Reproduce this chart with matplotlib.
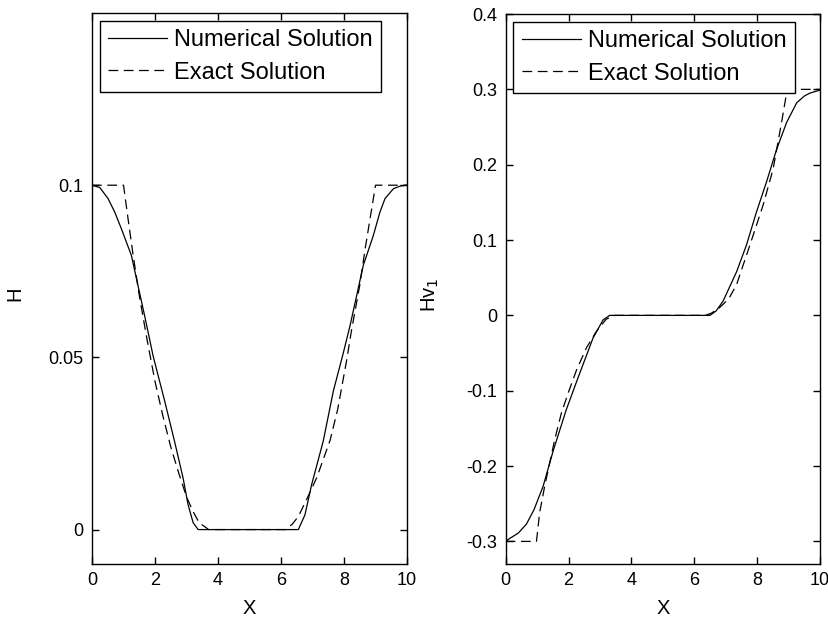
import matplotlib
matplotlib.use("Agg")
import matplotlib.pyplot as plt

plt.rcParams['font.family'] = ['Liberation Sans', 'DejaVu Sans']
plt.rcParams['lines.scale_dashes'] = False

# ---- Left panel: H ----
h_num_x = [0, 0.25, 0.51, 0.72, 0.93, 1.25, 1.46, 1.67, 1.94, 2.31, 2.62, 2.89, 3.05, 3.21, 3.37,
           6.55, 6.76, 6.97, 7.34, 7.66, 7.98, 8.19, 8.40, 8.61, 8.93, 9.14, 9.30, 9.57, 9.80, 10]
h_num = [0.1, 0.0993, 0.0961, 0.0922, 0.0874, 0.0796, 0.0708, 0.0621, 0.0504, 0.0372, 0.0256, 0.0150,
         0.0072, 0.0020, 0.0,
         0.0, 0.0043, 0.0130, 0.0257, 0.0402, 0.0514, 0.0592, 0.0679, 0.0767, 0.0854, 0.0922, 0.0961,
         0.0990, 0.0998, 0.1]

h_ex_x = [0, 1.0, 1.14, 1.30, 1.50, 1.75, 2.0, 2.25, 2.50, 2.75, 3.0, 3.21, 3.40, 3.63, 3.70,
          6.15, 6.18, 6.35, 6.55, 6.80, 7.13, 7.56, 7.80, 8.08, 8.24, 8.50, 8.67, 8.83, 9.0, 10]
h_ex = [0.1, 0.1, 0.0905, 0.0800, 0.0680, 0.0550, 0.0430, 0.0330, 0.0240, 0.0165, 0.0095, 0.0052,
        0.0020, 0.0005, 0.0,
        0.0, 0.0004, 0.0015, 0.0038, 0.0085, 0.0150, 0.0260, 0.0350, 0.0490, 0.0580, 0.0710,
        0.0815, 0.0905, 0.1, 0.1]

# ---- Right panel: Hv1 ----
hv_num_x = [0, 0.13, 0.40, 0.66, 0.90, 1.19, 1.51, 1.93, 2.30, 2.60, 2.78, 3.10, 3.31,
            6.50, 6.70, 6.92, 7.35, 7.66, 7.98, 8.30, 8.62, 8.94, 9.26, 9.50, 9.68, 10]
hv_num = [-0.300, -0.296, -0.289, -0.277, -0.258, -0.227, -0.180, -0.125, -0.083, -0.050, -0.030,
          -0.006, 0.0,
          0.0, 0.006, 0.019, 0.058, 0.093, 0.137, 0.177, 0.220, 0.256, 0.282, 0.291, 0.295, 0.299]

hv_ex_x = [0, 0.98, 1.08, 1.24, 1.56, 1.77, 1.98, 2.25, 2.57, 2.89, 3.20, 3.47,
           6.35, 6.55, 6.80, 7.10, 7.35, 7.77, 8.19, 8.51, 8.78, 8.94, 9.02, 10]
hv_ex = [-0.300, -0.300, -0.262, -0.227, -0.165, -0.130, -0.104, -0.073, -0.043, -0.021, -0.005, 0.0,
         0.0, 0.003, 0.010, 0.022, 0.041, 0.093, 0.146, 0.194, 0.256, 0.295, 0.300, 0.300]

x_ticks = [0, 2, 4, 6, 8, 10]
h_ticks = [0, 0.05, 0.1]
h_ticklabels = ['0', '0.05', '0.1']
hv_ticks = [-0.3, -0.2, -0.1, 0, 0.1, 0.2, 0.3, 0.4]
hv_ticklabels = ['-0.3', '-0.2', '-0.1', '0', '0.1', '0.2', '0.3', '0.4']
legend_labels = ['Numerical Solution', 'Exact Solution']

fig = plt.figure(figsize=(8.29, 6.2), dpi=100)
ax1 = fig.add_axes([0.111, 0.0903, 0.380, 0.8887])
ax2 = fig.add_axes([0.610, 0.0903, 0.379, 0.8871])

dash = (0, (7.0, 4.0))
for ax, xn, yn, xe, ye in [(ax1, h_num_x, h_num, h_ex_x, h_ex),
                           (ax2, hv_num_x, hv_num, hv_ex_x, hv_ex)]:
    ax.plot(xn, yn, color='black', lw=0.9, label=legend_labels[0])
    ax.plot(xe, ye, color='black', lw=0.9, linestyle=dash, label=legend_labels[1])
    ax.set_xlim(0, 10)
    ax.set_xticks(x_ticks)
    ax.set_xticklabels([str(t) for t in x_ticks])
    ax.tick_params(direction='in', length=5, width=1, top=True, right=True,
                   labelsize=13, pad=6, colors='black')
    for s in ax.spines.values():
        s.set_linewidth(1.0)
    ax.set_xlabel('X', fontsize=14.5, labelpad=7)
    leg = ax.legend(loc='upper left', fontsize=17, frameon=True, fancybox=False,
                    edgecolor='black', framealpha=1, borderaxespad=0.33,
                    handlelength=2.5, handletextpad=0.3, labelspacing=0.45,
                    borderpad=0.35)
    leg.get_frame().set_linewidth(1.0)

ax1.set_ylim(-0.01, 0.15)
ax1.set_yticks(h_ticks)
ax1.set_yticklabels(h_ticklabels)
ax1.set_ylabel('H', fontsize=14.5)
ax1.yaxis.set_label_coords(-0.215, 0.49)

ax2.set_ylim(-0.33, 0.4)
ax2.set_yticks(hv_ticks)
ax2.set_yticklabels(hv_ticklabels)
ax2.set_ylabel('Hv$_1$', fontsize=14.5)
ax2.yaxis.set_label_coords(-0.205, 0.49)

fig.savefig('out.png', dpi=100)
